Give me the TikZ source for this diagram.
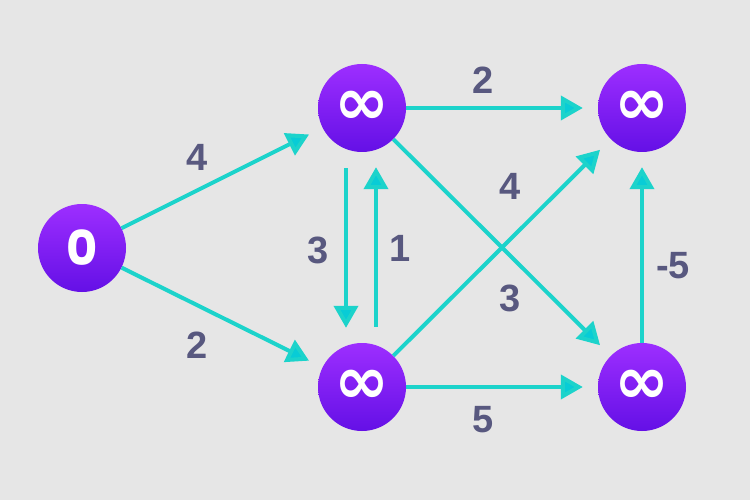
\documentclass[tikz,border=0pt]{standalone}
\usepackage{fontspec}
\setmainfont{Liberation Sans}
\newfontfamily\popfont{Poppins}
\newfontfamily\symfont{DejaVu Sans}
\usetikzlibrary{arrows.meta}
\definecolor{bg}{HTML}{E6E6E6}
\definecolor{edgec}{HTML}{1CD3CB}
\definecolor{tipc}{HTML}{08CCD6}
\definecolor{ntop}{HTML}{9D2EFF}
\definecolor{nbot}{HTML}{6410E6}
\definecolor{lbl}{HTML}{58587F}
\newcommand{\infsym}{\raisebox{-5pt}{∞}}
\tikzset{
  vert/.style={circle, minimum size=88pt, inner sep=0pt, top color=ntop, bottom color=nbot, text=white},
  conn/.style={draw=edgec, line width=4pt, -{Triangle[length=22pt,width=24pt,fill=tipc]}, shorten >=15pt},
  wlabel/.style={text=lbl, font=\fontsize{38}{38}\selectfont\bfseries, inner sep=0pt},
  inf/.style={font=\symfont\fontsize{66}{66}\selectfont\bfseries}
}
\begin{document}
\begin{tikzpicture}[x=1pt,y=-1pt]
\fill[bg] (0,0) rectangle (750,500);
\useasboundingbox (0,0) rectangle (750,500);
\node[vert, font=\popfont\fontsize{48}{48}\selectfont\bfseries] (A) at (82,248) {0};
\node[vert, inf] (B) at (362,108) {\infsym};
\node[vert, inf] (C) at (642,108) {\infsym};
\node[vert, inf] (D) at (362,387) {\infsym};
\node[vert, inf] (E) at (642,387) {\infsym};
\draw[conn] (A) -- (B);
\draw[conn] (A) -- (D);
\draw[conn] (B) -- (C);
\draw[conn] (D) -- (E);
\draw[conn] (B) -- (E);
\draw[conn] (D) -- (C);
\draw[conn] (E) -- (C);
\draw[conn] ([xshift=-16pt,yshift=-16pt]B.south) -- ([xshift=-16pt]D.north);
\draw[conn] ([xshift=14pt,yshift=16pt]D.north) -- ([xshift=14pt]B.south);
\node[wlabel] (l1) at (197,157) {4};
\node[wlabel] (l2) at (197,345) {2};
\node[wlabel] (l3) at (483,80) {2};
\node[wlabel] (l4) at (318,250) {3};
\node[wlabel] (l5) at (400,248) {1};
\node[wlabel] (l6) at (510,186) {4};
\node[wlabel] (l7) at (510,298) {3};
\node[wlabel] (l8) at (673,266) {-5};
\node[wlabel] (l9) at (483,420) {5};
\end{tikzpicture}
\end{document}
